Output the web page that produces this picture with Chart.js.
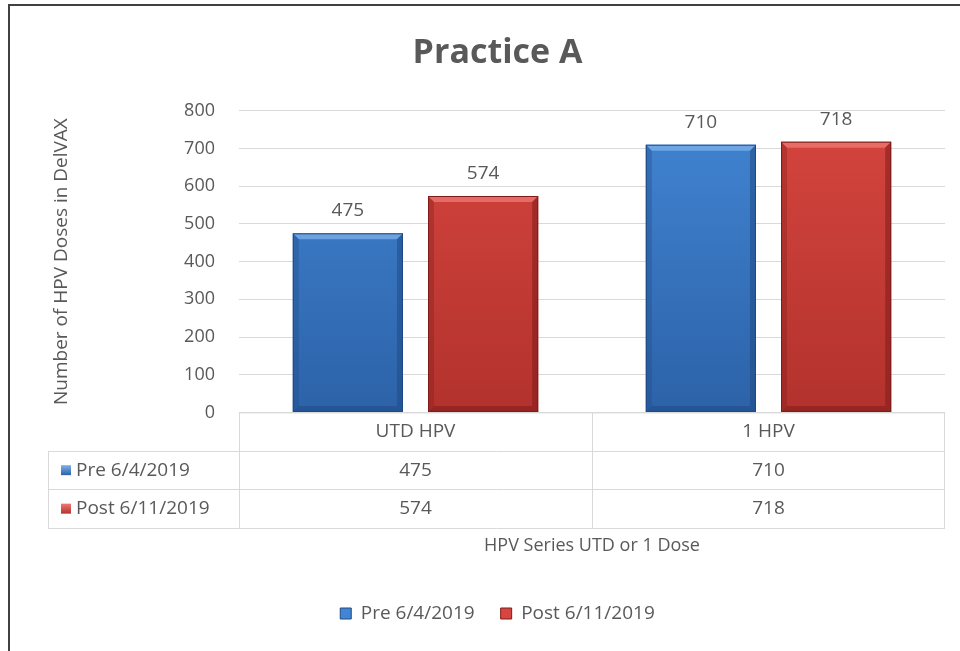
<!DOCTYPE html>
<html>
<head>
<meta charset="utf-8">
<script src="https://cdn.jsdelivr.net/npm/chart.js@4.4.1/dist/chart.umd.min.js"></script>
<style>
  html, body { margin: 0; padding: 0; background: #fff; }
  #wrap { width: 960px; height: 651px; }
</style>
</head>
<body>
<div id="wrap"><canvas id="myChart" width="960" height="651"></canvas></div>
<script>
// --- data ---
const categories  = ['UTD HPV', '1 HPV'];
const seriesNames = ['Pre 6/4/2019', 'Post 6/11/2019'];
const preValues   = [475, 710];
const postValues  = [574, 718];
const yMax  = 800;
const yStep = 100;

const TXT  = '#595959';
const GRID = '#d9d9d9';
const FONT = "'Open Sans', sans-serif";

// blue / red palettes: [top, bottom, light edge, dark edge]
const palettes = [
  ['#4285d3', '#2c62a8', '#7fb2ec', '#1f4a85'],
  ['#d6453f', '#b3322d', '#ef7a74', '#7f1c1a']
];

function barFill(idx) {
  return (ctx) => {
    const area = ctx.chart.chartArea;
    const p = palettes[idx];
    if (!area) return p[0];
    const g = ctx.chart.ctx.createLinearGradient(0, area.top, 0, area.bottom);
    g.addColorStop(0, p[0]);
    g.addColorStop(1, p[1]);
    return g;
  };
}

// white background + the frame of the original picture
const framePlugin = {
  id: 'frame',
  beforeDraw(chart) {
    const c = chart.ctx;
    c.save();
    c.fillStyle = '#fff';
    c.fillRect(0, 0, chart.width, chart.height);
    c.strokeStyle = '#404040';
    c.lineWidth = 2;
    c.beginPath();
    c.moveTo(9, chart.height);
    c.lineTo(9, 5);
    c.lineTo(chart.width, 5);
    c.stroke();
    c.restore();
  }
};

// bevel edges on each bar + value labels on top
const bevelPlugin = {
  id: 'bevel',
  afterDatasetsDraw(chart) {
    const c = chart.ctx;
    chart.data.datasets.forEach((ds, di) => {
      const meta = chart.getDatasetMeta(di);
      const p = palettes[di];
      meta.data.forEach((bar, i) => {
        const { x, y, base, width } = bar.getProps(['x', 'y', 'base', 'width'], true);
        const l = x - width / 2, r = x + width / 2, b = 6;
        c.save();
        // top bevel
        c.globalAlpha = 0.75;
        c.fillStyle = p[2];
        c.beginPath();
        c.moveTo(l, y); c.lineTo(r, y); c.lineTo(r - b, y + b); c.lineTo(l + b, y + b);
        c.closePath(); c.fill();
        // side + bottom bevels
        c.globalAlpha = 0.35;
        c.fillStyle = p[3];
        c.beginPath();
        c.moveTo(l, y); c.lineTo(l + b, y + b); c.lineTo(l + b, base - b); c.lineTo(l, base);
        c.closePath(); c.fill();
        c.globalAlpha = 0.55;
        c.beginPath();
        c.moveTo(r, y); c.lineTo(r - b, y + b); c.lineTo(r - b, base - b); c.lineTo(r, base);
        c.closePath(); c.fill();
        c.beginPath();
        c.moveTo(l, base); c.lineTo(l + b, base - b); c.lineTo(r - b, base - b); c.lineTo(r, base);
        c.closePath(); c.fill();
        c.globalAlpha = 1;
        c.strokeStyle = p[3];
        c.lineWidth = 1;
        c.strokeRect(l + 0.5, y + 0.5, width - 1, base - y - 1);
        // value label
        c.fillStyle = TXT;
        c.font = '19px ' + FONT;
        c.textAlign = 'center';
        c.textBaseline = 'bottom';
        c.fillText(ds.data[i], x, y - 13);
        c.restore();
      });
    });
  }
};

// data table under the plot
const tablePlugin = {
  id: 'dataTable',
  afterDraw(chart) {
    const c = chart.ctx;
    const area = chart.chartArea;
    const xs = chart.scales.x;
    const rowH = 38.5;
    const top = area.bottom;
    const labelLeft = 48;
    const rows = [top, top + rowH, top + 2 * rowH, top + 3 * rowH];
    c.save();
    c.strokeStyle = GRID;
    c.lineWidth = 1;
    c.beginPath();
    c.moveTo(area.left, rows[0] + 0.5); c.lineTo(area.right, rows[0] + 0.5);
    for (let k = 1; k < 4; k++) {
      c.moveTo(labelLeft, Math.round(rows[k]) + 0.5); c.lineTo(area.right, Math.round(rows[k]) + 0.5);
    }
    c.moveTo(area.left + 0.5, rows[0]); c.lineTo(area.left + 0.5, rows[3]);
    c.moveTo(area.right - 0.5, rows[0]); c.lineTo(area.right - 0.5, rows[3]);
    c.moveTo(labelLeft + 0.5, rows[1]); c.lineTo(labelLeft + 0.5, rows[3]);
    for (let i = 1; i < categories.length; i++) {
      const xm = Math.round((xs.getPixelForValue(i - 1) + xs.getPixelForValue(i)) / 2) + 0.5;
      c.moveTo(xm, rows[0]); c.lineTo(xm, rows[3]);
    }
    c.stroke();

    c.fillStyle = TXT;
    c.font = '19px ' + FONT;
    c.textBaseline = 'middle';
    c.textAlign = 'center';
    categories.forEach((cat, i) => c.fillText(cat, xs.getPixelForValue(i), rows[0] + rowH / 2));
    chart.data.datasets.forEach((ds, di) => {
      const yc = rows[1 + di] + rowH / 2;
      const p = palettes[di];
      const g = c.createLinearGradient(0, yc - 5, 0, yc + 5);
      g.addColorStop(0, p[2]); g.addColorStop(1, p[1]);
      c.fillStyle = g;
      c.fillRect(61, yc - 5, 10, 10);
      c.fillStyle = TXT;
      c.textAlign = 'left';
      c.fillText(ds.label, 76, yc);
      c.textAlign = 'center';
      ds.data.forEach((v, i) => c.fillText(v, xs.getPixelForValue(i), yc));
    });
    c.restore();
  }
};

const ctx = document.getElementById('myChart').getContext('2d');
const chart = new Chart(ctx, {
  type: 'bar',
  data: {
    labels: categories,
    datasets: [
      { label: seriesNames[0], data: preValues,  backgroundColor: barFill(0), borderWidth: 0 },
      { label: seriesNames[1], data: postValues, backgroundColor: barFill(1), borderWidth: 0 }
    ]
  },
  options: {
    responsive: false,
    animation: false,
    barPercentage: 0.815,
    categoryPercentage: 0.766,
    layout: { padding: { left: 50, right: 15, top: 0, bottom: 18 } },
    plugins: {
      title: {
        display: true,
        text: 'Practice A',
        color: TXT,
        font: { family: FONT, size: 34, weight: 'bold' },
        padding: { top: 33, bottom: 37 }
      },
      legend: {
        position: 'bottom',
        labels: {
          color: TXT,
          font: { family: FONT, size: 19 },
          boxWidth: 11,
          boxHeight: 11,
          padding: 26,
          generateLabels: (ch) => ch.data.datasets.map((ds, i) => ({
            text: ds.label,
            fillStyle: palettes[i][0],
            strokeStyle: palettes[i][3],
            lineWidth: 1,
            fontColor: TXT,
            datasetIndex: i
          }))
        }
      },
      tooltip: { enabled: false }
    },
    scales: {
      x: {
        grid: { display: false, drawTicks: false },
        border: { display: false },
        ticks: { display: false },
        title: {
          display: true,
          text: 'HPV Series UTD or 1 Dose',
          color: TXT,
          font: { family: FONT, size: 18 },
          padding: { top: 123, bottom: 21 }
        }
      },
      y: {
        min: 0,
        max: yMax,
        ticks: { stepSize: yStep, color: TXT, font: { family: FONT, size: 18 }, padding: 24 },
        grid: { color: GRID, drawTicks: false },
        border: { display: false },
        afterFit: (scale) => { scale.width = 189; },
        title: {
          display: true,
          text: 'Number of HPV Doses in DelVAX',
          color: TXT,
          font: { family: FONT, size: 19 },
          padding: { top: 0, bottom: 0 }
        }
      }
    }
  },
  plugins: [framePlugin, bevelPlugin, tablePlugin]
});
</script>
</body>
</html>
